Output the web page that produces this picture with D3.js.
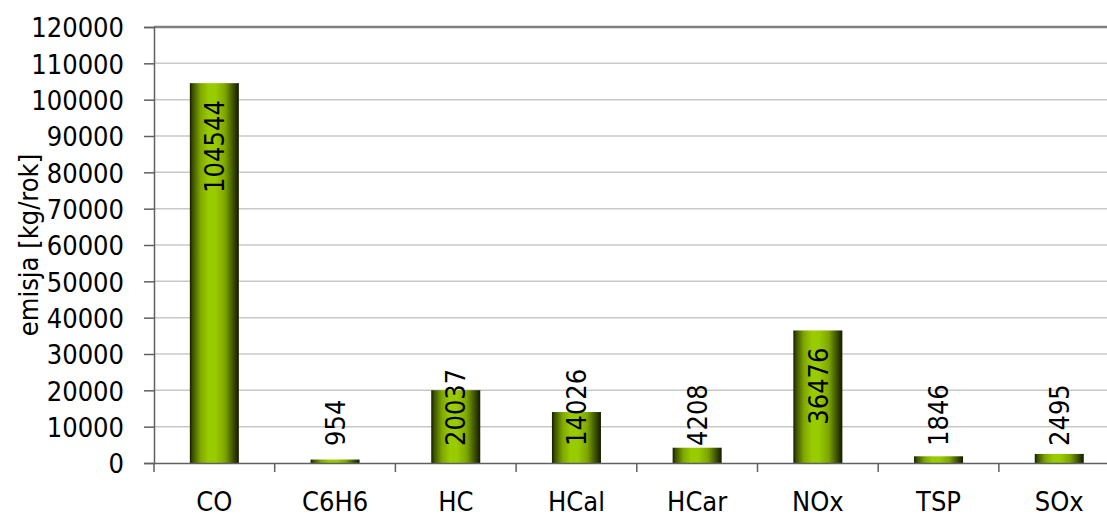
<!DOCTYPE html>
<html>
<head>
<meta charset="utf-8">
<script src="https://cdn.jsdelivr.net/npm/d3@7"></script>
<style>
html,body{margin:0;padding:0;background:#fff;overflow:hidden;}
svg{display:block;}
text{font-family:"DejaVu Sans Condensed","DejaVu Sans",sans-serif;fill:#000;}
</style>
</head>
<body>
<svg id="chart" width="1107" height="515"></svg>
<script>
const categories = ["CO","C6H6","HC","HCal","HCar","NOx","TSP","SOx"];
const values = [104544, 954, 20037, 14026, 4208, 36476, 1846, 2495];
const yTicks = [0,10000,20000,30000,40000,50000,60000,70000,80000,90000,100000,110000,120000];
const yTitle = "emisja [kg/rok]";

(function(){
const svg = d3.select("#chart");
const pLeft = 154, pTop = 27, pBottom = 463, band = 120.7;
const pRight = pLeft + band * categories.length;
const fs = 27;

const x = d3.scaleBand().domain(categories).range([pLeft, pRight]).paddingInner(0.594).paddingOuter(0.297);
const y = d3.scaleLinear().domain([0, 120000]).range([pBottom, pTop]);

const defs = svg.append("defs");
const g = defs.append("linearGradient").attr("id","barGrad").attr("x1","0").attr("x2","1").attr("y1","0").attr("y2","0");
[["0%","#141c00"],["6%","#3d5200"],["22%","#7fa800"],["38%","#99cc00"],["52%","#99cc00"],["72%","#7ea600"],["88%","#3f5400"],["100%","#121800"]]
  .forEach(s => g.append("stop").attr("offset", s[0]).attr("stop-color", s[1]));

svg.append("g").selectAll("line").data(yTicks.filter(t => t > 0 && t < 120000)).join("line")
  .attr("x1", pLeft).attr("x2", 1107).attr("y1", d => y(d)).attr("y2", d => y(d))
  .attr("stroke", "#c8c8c8").attr("stroke-width", 1.5);
svg.append("line").attr("x1", pLeft).attr("x2", 1107).attr("y1", y(120000)).attr("y2", y(120000))
  .attr("stroke", "#808080").attr("stroke-width", 2.5);

svg.append("g").selectAll("rect").data(values).join("rect")
  .attr("x", (d,i) => x(categories[i]))
  .attr("width", x.bandwidth())
  .attr("y", d => y(d))
  .attr("height", d => pBottom - y(d))
  .attr("fill", "url(#barGrad)");

const yAxis = d3.axisLeft(y).tickValues(yTicks).tickFormat(d3.format("d")).tickSize(10).tickPadding(20);
const ya = svg.append("g").attr("transform", `translate(${pLeft},0)`).call(yAxis);
ya.select(".domain").attr("stroke", "#606060").attr("stroke-width", 1.5);
ya.selectAll(".tick line").attr("stroke", "#606060").attr("stroke-width", 1.5);
ya.selectAll("text").attr("font-size", fs).attr("font-family", "DejaVu Sans Condensed").attr("fill","#000").attr("dy","0.36em");

const xAxis = d3.axisBottom(x).tickSize(0).tickPadding(29);
const xa = svg.append("g").attr("transform", `translate(0,${pBottom})`).call(xAxis);
xa.select(".domain").attr("stroke", "#606060").attr("stroke-width", 1.5).attr("d", `M${pLeft},0.5H1107`);
xa.selectAll("text").attr("font-size", fs).attr("font-family", "DejaVu Sans Condensed").attr("fill","#000").attr("dy","0.71em");
xa.append("g").selectAll("line").data(d3.range(categories.length + 1)).join("line")
  .attr("x1", i => pLeft + i * band).attr("x2", i => pLeft + i * band)
  .attr("y1", 0).attr("y2", 9).attr("stroke", "#606060").attr("stroke-width", 1.5);

svg.append("text").attr("transform", `translate(38,${(pTop+pBottom)/2}) rotate(-90)`)
  .attr("text-anchor","middle").attr("font-size", fs).text(yTitle);

const lbl = svg.append("g").selectAll("text").data(values).join("text")
  .attr("font-size", fs).text(d => d);
lbl.each(function(d,i){
  const L = this.getComputedTextLength();
  const cx = x(categories[i]) + x.bandwidth()/2;
  const endY = Math.min(y(d) + 17 + L, 446);
  d3.select(this).attr("text-anchor","start")
    .attr("transform", `translate(${cx},${endY}) rotate(-90)`)
    .attr("dy","0.36em");
});
})();
</script>
</body>
</html>
